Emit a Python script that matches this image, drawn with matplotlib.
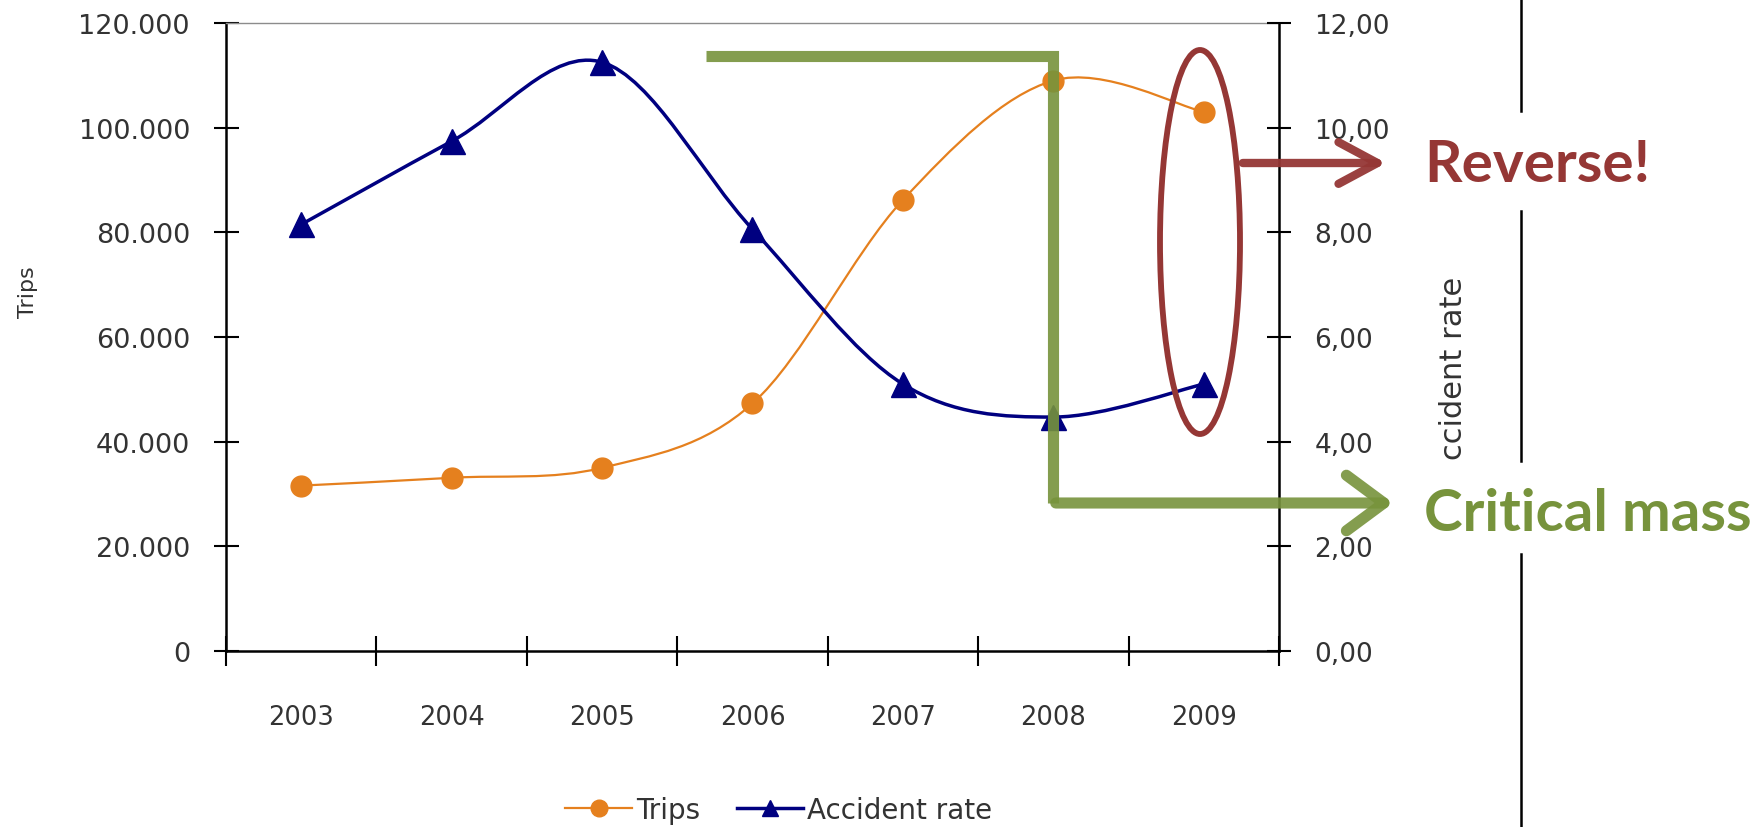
import matplotlib
matplotlib.use("Agg")
import matplotlib.pyplot as plt
import numpy as np
from matplotlib.path import Path
from matplotlib.patches import PathPatch, Ellipse, FancyArrowPatch, ArrowStyle
from matplotlib.lines import Line2D
from matplotlib.ticker import FixedLocator, NullFormatter, FuncFormatter, MultipleLocator

# data
years = ["2003", "2004", "2005", "2006", "2007", "2008", "2009"]
trips = [31600, 33100, 35000, 47300, 86200, 109000, 103000]
accident_rate = [8.15, 9.74, 11.25, 8.06, 5.10, 4.47, 5.10]

ORANGE = "#E5801E"
NAVY = "#000080"
GREEN = "#77933C"
RED = "#953735"
TXT = "#333333"

W, H = 1761, 828
fig = plt.figure(figsize=(W / 100, H / 100), dpi=100)


def px(x, y):
    # pixel position (from top-left) -> figure fraction
    return x / W, 1 - y / H


def smooth_path(xs, ys):
    # Excel-like smoothed line: cubic bezier segments through the points
    pts = np.column_stack([np.asarray(xs, float), np.asarray(ys, float)])
    n = len(pts)
    verts = [pts[0]]
    codes = [Path.MOVETO]
    for i in range(n - 1):
        p0 = pts[max(i - 1, 0)]
        p1 = pts[i]
        p2 = pts[i + 1]
        p3 = pts[min(i + 2, n - 1)]
        verts += [p1 + (p2 - p0) / 6, p2 - (p3 - p1) / 6, p2]
        codes += [Path.CURVE4] * 3
    return Path(verts, codes)


ax = fig.add_axes([226 / W, 1 - 652 / H, (1279 - 226) / W, (652 - 24) / H])
ax2 = ax.twinx()

x = np.arange(len(years))

ax.add_patch(PathPatch(smooth_path(x, trips), fill=False, ec=ORANGE, lw=1.6, zorder=2))
ax.plot(x, trips, ls="none", marker="o", ms=15, color=ORANGE, zorder=3)

ax2.add_patch(PathPatch(smooth_path(x, accident_rate), fill=False, ec=NAVY, lw=2.5, zorder=2))
ax2.plot(x, accident_rate, ls="none", marker="^", ms=18, color=NAVY, zorder=3)

ax.set_xlim(-0.5, len(years) - 0.5)
ax.set_ylim(0, 120000)
ax2.set_ylim(0, 12)

# x axis: ticks at category boundaries, labels at category centres
ax.xaxis.set_major_locator(FixedLocator(np.arange(-0.5, len(years), 1)))
ax.xaxis.set_major_formatter(NullFormatter())
ax.set_xticks(x, minor=True)
ax.set_xticklabels(years, minor=True)
ax.tick_params(axis="x", which="major", direction="inout", length=21, width=1.5)
ax.tick_params(axis="x", which="minor", length=0, pad=38, labelsize=18.5, labelcolor=TXT)

ax.yaxis.set_major_locator(MultipleLocator(20000))
ax.yaxis.set_major_formatter(FuncFormatter(lambda v, p: f"{int(v):,}".replace(",", ".")))
ax.tick_params(axis="y", direction="inout", length=18, width=1.5, pad=17, labelsize=19.5, labelcolor=TXT)

ax2.yaxis.set_major_locator(MultipleLocator(2))
ax2.yaxis.set_major_formatter(FuncFormatter(lambda v, p: f"{v:.2f}".replace(".", ",")))
ax2.tick_params(axis="y", direction="inout", length=17, width=1.5, pad=17, labelsize=19, labelcolor=TXT)

for s in ["left", "bottom"]:
    ax.spines[s].set_linewidth(1.8)
ax.spines["top"].set_color("#8c8c8c")
ax.spines["top"].set_linewidth(1.0)
ax.spines["right"].set_visible(False)
for s in ["left", "top", "bottom"]:
    ax2.spines[s].set_visible(False)
ax2.spines["right"].set_linewidth(1.8)

fig.text(28 / W, 1 - 292 / H, "Trips", rotation=90, ha="center", va="center",
         fontsize=16, color=TXT)
# right axis title is cut off in the original
fig.text(1454 / W, 1 - 368 / H, "ccident rate", rotation=90, ha="center", va="center",
         fontsize=22, color=TXT)

handles = [
    Line2D([], [], color=ORANGE, lw=1.6, marker="o", ms=12),
    Line2D([], [], color=NAVY, lw=2.5, marker="^", ms=12),
]
fig.legend(handles, ["Trips", "Accident rate"], loc="center", bbox_to_anchor=px(779, 811),
           ncol=2, frameon=False, fontsize=20, handlelength=2.4, handletextpad=0.15,
           columnspacing=1.3, labelcolor=TXT, borderpad=0)

# right-hand annotations
for y0, y1 in [(0, 112), (212, 462), (555, 828)]:
    fig.add_artist(Line2D([1521 / W, 1521 / W], [1 - y0 / H, 1 - y1 / H], lw=1.8,
                          color="black", zorder=1))

fig.add_artist(Line2D([706 / W, 1053 / W, 1053 / W], [1 - 57 / H, 1 - 57 / H, 1 - 504 / H],
                      lw=8, color=GREEN, alpha=0.9, solid_capstyle="butt",
                      solid_joinstyle="miter", zorder=5))
fig.add_artist(FancyArrowPatch(px(1053, 504), px(1396, 504), transform=fig.transFigure,
                               arrowstyle=ArrowStyle("->", head_length=2.7, head_width=2.0),
                               mutation_scale=10, lw=8, color=GREEN, alpha=0.9, zorder=6))

fig.add_artist(Ellipse(px(1200, 243), 80 / W, 384 / H, transform=fig.transFigure,
                       fill=False, ec=RED, lw=4.2, zorder=5))
fig.add_artist(FancyArrowPatch(px(1240, 164), px(1389, 164), transform=fig.transFigure,
                               arrowstyle=ArrowStyle("->", head_length=2.8, head_width=1.5),
                               mutation_scale=10, lw=6, color=RED, alpha=0.95, zorder=6))

fig.text(1424 / W, 1 - 182 / H, "Reverse!", ha="left", va="baseline", fontsize=42,
         fontweight="bold", family="Lato", color=RED, zorder=4)
fig.text(1424 / W, 1 - 531 / H, "Critical mass", ha="left", va="baseline", fontsize=42,
         fontweight="bold", family="Lato", color=GREEN, zorder=4)

fig.savefig("out.png", dpi=100, facecolor="white")
